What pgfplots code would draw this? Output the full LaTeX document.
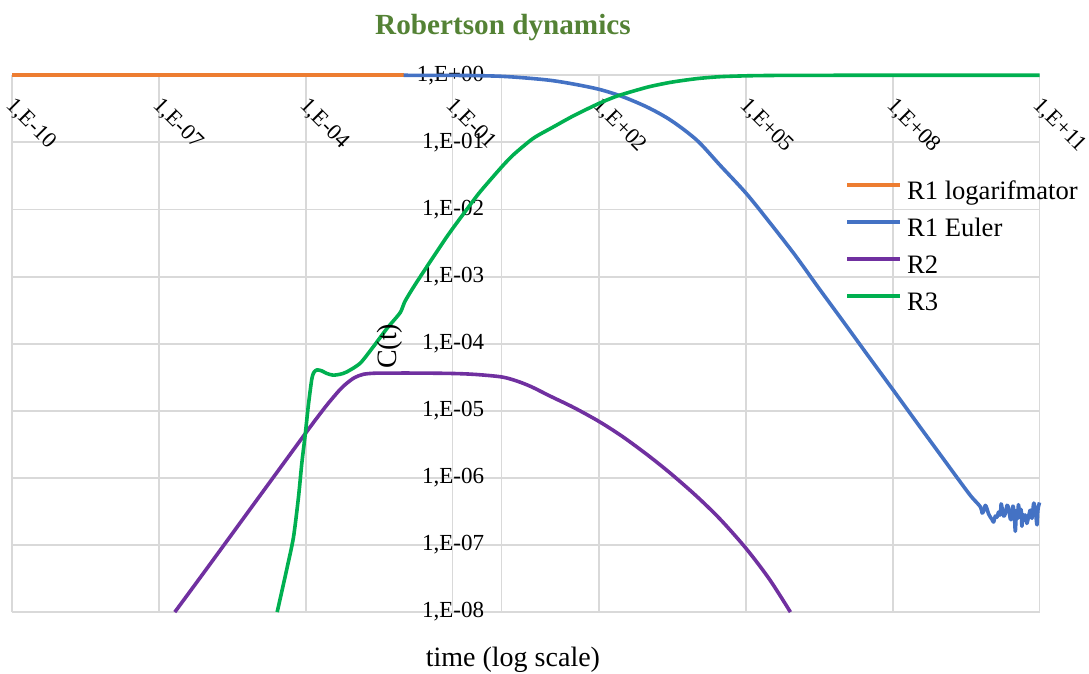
\documentclass[border=0pt]{standalone}
\usepackage{pgfplots}
\pgfplotsset{compat=1.18}
\usepackage{fontspec}
\setmainfont{Liberation Serif}
\definecolor{gridgray}{RGB}{217,217,217}
\definecolor{xlorange}{RGB}{237,125,49}
\definecolor{xlblue}{RGB}{68,114,196}
\definecolor{xlpurple}{RGB}{112,48,160}
\definecolor{xlgreen}{RGB}{0,176,80}
\definecolor{titlegreen}{RGB}{84,130,53}
\pgfplotsset{
  every non boxed x axis/.append style={x axis line style={-}},
  every non boxed y axis/.append style={y axis line style={-}},
}
\begin{document}
\begin{tikzpicture}
\begin{axis}[
  name=ax,
  scale only axis,
  width=513.6pt, height=268.4pt,
  xmode=log, ymode=log,
  xmin=1e-10, xmax=1e11, ymin=1e-8, ymax=1,
  axis x line=top, axis y line=middle,
  hide obscured x ticks=false, hide obscured y ticks=false,
  axis line style={draw=gridgray, line width=0.9pt},
  clip=false,
  grid=major,
  major grid style={draw=gridgray, line width=0.9pt},
  major tick length=0pt, minor tick length=0pt,
  tick style={draw=none},
  xtick={1e-10,1e-7,1e-4,1e-1,1e2,1e5,1e8,1e11},
  xticklabels={{1,E-10},{1,E-07},{1,E-04},{1,E-01},{1,E+02},{1,E+05},{1,E+08},{1,E+11}},
  ytick={1e-8,1e-7,1e-6,1e-5,1e-4,1e-3,1e-2,1e-1,1},
  yticklabels={{1,E-08},{1,E-07},{1,E-06},{1,E-05},{1,E-04},{1,E-03},{1,E-02},{1,E-01},{1,E+00}},
  xticklabel style={inner sep=0pt, anchor=base west, xshift=-3.5pt, yshift=-15.5pt, rotate=-45, font=\fontsize{11.2}{13}\selectfont},
  yticklabel style={inner sep=0pt, anchor=east, xshift=-8.5pt, font=\fontsize{11.5}{13}\selectfont},
  every axis title shift=0pt,
  title={Robertson dynamics},
  title style={at={(axis description cs:0.4777,1)}, anchor=base, yshift=20.15pt, inner sep=0pt, font=\bfseries\fontsize{14.6}{17}\selectfont, text=titlegreen},
  xlabel={time (log scale)},
  xlabel style={at={(axis description cs:0.4874,0)}, anchor=base, yshift=-27pt, inner sep=0pt, font=\fontsize{14}{16}\selectfont},
  ylabel={C(t)},
  ylabel style={at={(axis description cs:0.367,0.495)}, rotate=90, anchor=center, inner sep=0pt, font=\fontsize{14}{16}\selectfont},
  legend style={at={(axis description cs:0.8107,0.6774)}, anchor=west, draw=none, fill=none, inner sep=0pt, font=\fontsize{13.3}{15}\selectfont, row sep=6pt, nodes={inner sep=0pt, text height=9.5pt, text depth=3pt}, /tikz/every odd column/.append style={column sep=2.5pt}},
  legend cell align=left,
  legend image code/.code={\draw[#1] (0pt,4pt) -- (26.5pt,4pt);},
  every axis plot/.append style={line width=1.8pt, line join=round},
]
\addplot[xlorange] coordinates {(1e-10,1) (1e-2,1)};
\addlegendentry{R1 logarifmator}
\addplot[xlblue, smooth, tension=0.5] coordinates {
(0.01,1) (0.03,0.999) (0.1,0.996) (0.3,0.989) (1,0.966) (3,0.915) (10,0.841) (30,0.74)
(100,0.617) (300,0.48) (1000,0.33) (3000,0.21) (1e4,0.107) (3e4,0.045) (1e5,0.0175)
(3e5,0.0065) (1e6,0.0021) (3e6,6.9e-4) (1e7,2.08e-4) (3e7,6.9e-5) (1e8,2.08e-5)
(3e8,6.9e-6) (1e9,2.08e-6) (2.4e9,8.7e-7) (4e9,5.3e-7)
(6.2e9,3.7e-7) (6.7e9,3.0e-7) (7.2e9,3.2e-7) (7.8e9,3.9e-7) (8.4e9,3.5e-7) (9.1e9,2.9e-7)
(9.9e9,2.6e-7) (1.07e10,2.4e-7) (1.15e10,2.2e-7) (1.25e10,2.7e-7) (1.35e10,2.6e-7)
(1.46e10,3.1e-7) (1.58e10,2.8e-7) (1.64e10,4.1e-7) (1.7e10,3.7e-7) (1.85e10,2.7e-7)
(2.0e10,2.95e-7) (2.17e10,3.9e-7) (2.34e10,3.5e-7) (2.55e10,2.4e-7) (2.75e10,2.6e-7)
(2.85e10,3.8e-7) (2.95e10,3.5e-7) (3.08e10,2.7e-7) (3.2e10,1.6e-7) (3.35e10,2.9e-7)
(3.47e10,3.3e-7) (3.6e10,2.5e-7) (3.7e10,4.0e-7) (3.9e10,3.0e-7) (4.07e10,2.6e-7)
(4.2e10,3.4e-7) (4.37e10,1.9e-7) (4.5e10,2.9e-7) (4.7e10,2.3e-7) (5.1e10,2.8e-7)
(5.5e10,2.1e-7) (6.0e10,2.7e-7) (6.5e10,3.3e-7) (7.0e10,2.5e-7) (7.6e10,4.2e-7)
(8.1e10,3.5e-7) (8.5e10,2.6e-7) (8.9e10,2.0e-7) (9.2e10,3.1e-7) (9.5e10,3.7e-7) (1e11,4.3e-7)
};
\addlegendentry{R1 Euler}
\addplot[xlpurple, smooth, tension=0.5] coordinates {
(2.1e-7,1e-8) (1e-6,4.7e-8) (1e-5,4.7e-7) (1e-4,4.68e-6) (2e-4,9.2e-6) (3e-4,1.34e-5)
(5e-4,2.07e-5) (7e-4,2.6e-5) (1e-3,3.13e-5) (1.5e-3,3.5e-5) (2.5e-3,3.63e-5) (5e-3,3.65e-5)
(2e-2,3.65e-5) (0.1,3.6e-5) (0.3,3.48e-5) (1,3.2e-5) (2,2.8e-5) (4,2.3e-5) (10,1.65e-5)
(30,1.12e-5) (100,6.9e-6) (300,4.12e-6) (1000,2.16e-6) (3000,1.135e-6) (1e4,5.25e-7)
(3e4,2.4e-7) (1e5,8.9e-8) (3e5,3.1e-8) (8.1e5,1e-8)
};
\addlegendentry{R2}
\addplot[xlgreen, smooth, tension=0.4] coordinates {
(2.6e-5,1e-8) (4.07e-5,4.3e-8) (5.6e-5,1.3e-7) (7.1e-5,5.2e-7) (8.3e-5,1.66e-6)
(9.8e-5,4.6e-6) (1.12e-4,1.15e-5) (1.32e-4,2.9e-5) (1.45e-4,3.7e-5) (1.68e-4,4.07e-5)
(2.1e-4,3.95e-5) (2.7e-4,3.6e-5) (3.6e-4,3.4e-5) (5e-4,3.5e-5) (6.9e-4,3.8e-5)
(1.29e-3,5.1e-5) (2.4e-3,9e-5) (4.6e-3,1.7e-4) (8.5e-3,2.9e-4) (1.07e-2,4.3e-4)
(1.86e-2,8.3e-4) (7.6e-2,3.9e-3) (0.195,1.0e-2) (0.363,1.82e-2) (1,0.0427) (1.78,0.066)
(4.47,0.115) (11.5,0.17) (30,0.25) (100,0.383) (250,0.5) (1000,0.67) (3000,0.79)
(1e4,0.893) (3e4,0.954) (1e5,0.982) (3e5,0.9935) (1e6,0.998) (1e7,1) (1e11,1)
};
\addlegendentry{R3}
\end{axis}
\pgfresetboundingbox
\path[use as bounding box] ([shift={(-6.15pt,-30.45pt)}]ax.south west) rectangle ([shift={(24.75pt,37.65pt)}]ax.north east);
\end{tikzpicture}
\end{document}
